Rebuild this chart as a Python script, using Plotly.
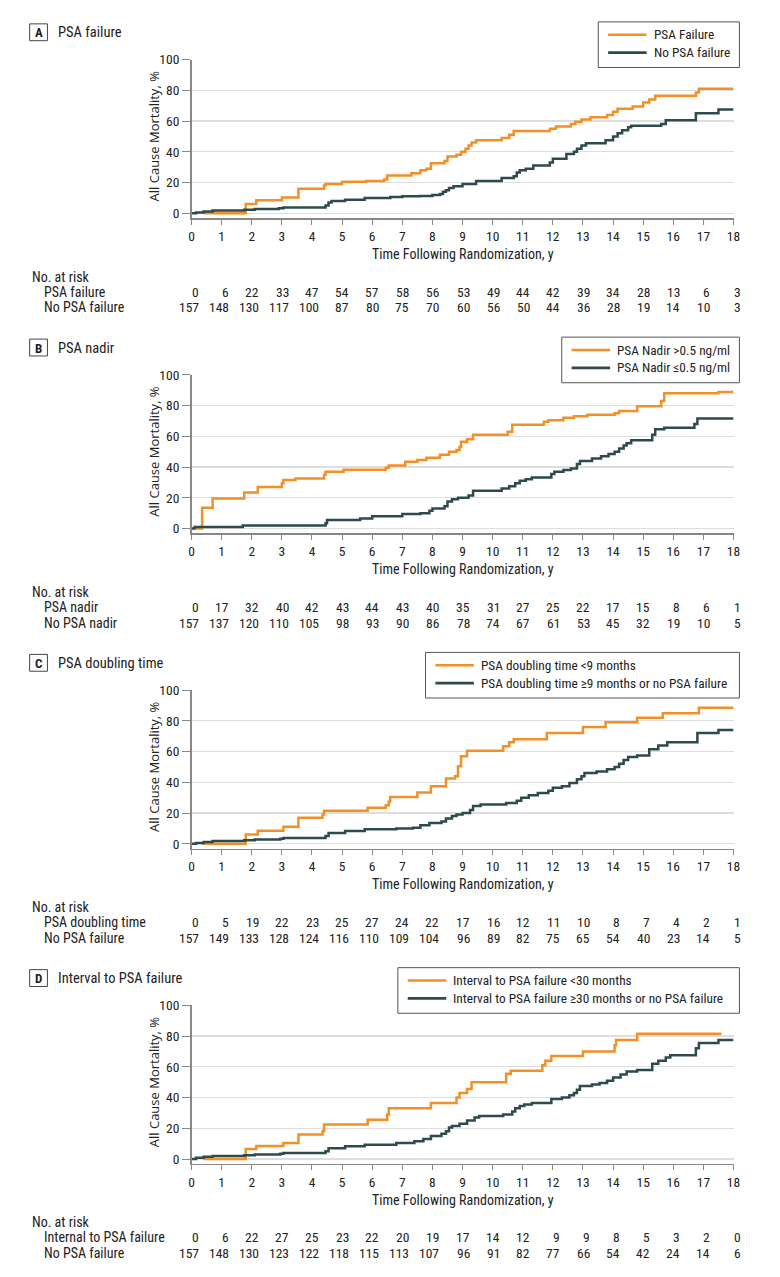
import plotly.graph_objects as go

W, H = 780, 1277
COND = "Roboto Condensed, Liberation Sans Narrow, Roboto, Liberation Sans, sans-serif"
ORANGE = "#F29027"
TEAL = "#2E4A4C"

years = list(range(0, 19))

# ---------------- Panel data ----------------
panel_letters = ["A", "B", "C", "D"]
panel_titles = ["PSA failure", "PSA nadir", "PSA doubling time", "Interval to PSA failure"]
legend_orange = ["PSA Failure", "PSA Nadir >0.5 ng/ml", "PSA doubling time <9 months",
                 "Interval to PSA failure <30 months"]
legend_teal = ["No PSA failure", "PSA Nadir \u22640.5 ng/ml",
               "PSA doubling time \u22659 months or no PSA failure",
               "Interval to PSA failure \u226530 months or no PSA failure"]
risk_label1 = ["PSA failure", "PSA nadir", "PSA doubling time", "Internal to PSA failure"]
risk_label2 = ["No PSA failure", "No PSA nadir", "No PSA failure", "No PSA failure"]

# Panel A
a_or_t = [0.4, 1.8, 2.15, 3.0, 3.55, 4.4, 4.45, 5.0, 5.8, 6.4, 6.5, 7.3, 7.6, 7.8, 7.95, 8.4, 8.5, 8.8, 8.95,
          9.1, 9.2, 9.3, 9.45, 10.3, 10.55, 10.7, 11.9, 12.1, 12.6, 12.75, 12.95, 13.25, 13.8, 14.0, 14.15,
          14.65, 15.0, 15.2, 15.4, 16.75, 16.85, 18.0]
a_or_v = [0, 6, 8.5, 10.2, 16, 18, 19, 20.5, 21, 22, 24.5, 26, 28, 29, 32.5, 34, 37, 38, 40,
          42, 44, 46, 47.5, 49, 51, 53.5, 55, 56.5, 58, 59.5, 61, 62.5, 64, 66, 68,
          69.5, 72, 74, 76.5, 78.5, 81, 81]
a_te_t = [0, 0.15, 0.4, 0.7, 1.75, 2.1, 2.9, 3.05, 4.45, 4.55, 4.65, 5.1, 5.75, 6.6, 7.0, 7.6, 8.0, 8.25,
          8.35, 8.45, 8.55, 8.7, 9.0, 9.45, 10.3, 10.7, 10.8, 10.9, 11.1, 11.35, 11.9, 12.0, 12.45, 12.7,
          12.8, 12.95, 13.1, 13.75, 14.0, 14.15, 14.3, 14.5, 14.6, 15.6, 15.75, 16.75, 17.5, 18.0]
a_te_v = [0, 0.5, 1.2, 1.8, 2.3, 2.8, 3.3, 3.8, 5, 7, 8, 8.8, 10, 10.5, 11, 11.2, 11.8, 12.5,
          14, 15, 16.5, 17.5, 19, 21, 23, 24, 26.5, 28, 29, 31, 33, 35.5, 38.5, 40,
          42, 44, 45.5, 47.5, 50, 52, 54, 56, 57, 58, 60.5, 65, 67.5, 67.5]
a_risk1 = [0, 6, 22, 33, 47, 54, 57, 58, 56, 53, 49, 44, 42, 39, 34, 28, 13, 6, 3]
a_risk2 = [157, 148, 130, 117, 100, 87, 80, 75, 70, 60, 56, 50, 44, 36, 28, 19, 14, 10, 3]

# Panel B
b_or_t = [0.15, 0.35, 0.7, 1.75, 2.2, 3.0, 3.05, 3.45, 4.4, 4.45, 5.05, 6.45, 6.55, 7.1, 7.5, 7.8, 8.25,
          8.55, 8.8, 8.9, 8.95, 9.15, 9.35, 10.5, 10.65, 11.7, 11.85, 12.35, 12.7, 13.15, 14.05, 14.2,
          14.8, 15.6, 15.7, 17.5, 18.0]
b_or_v = [0, 13.5, 19.5, 23.5, 27, 29.5, 31.5, 32.5, 35, 37, 38.3, 39.5, 41, 43.5, 44.5, 46, 48,
          50, 51, 53, 56.5, 58, 61, 63, 67.5, 69.5, 70.5, 72, 73, 74, 75, 76.5,
          79.5, 83, 88, 88.8, 88.8]
b_te_t = [0, 0.1, 1.7, 4.45, 4.5, 5.6, 6.0, 7.0, 7.6, 7.9, 8.0, 8.4, 8.5, 8.65, 8.85, 9.2, 9.35, 10.3,
          10.55, 10.75, 10.9, 11.1, 11.3, 11.95, 12.05, 12.35, 12.6, 12.8, 12.9, 13.3, 13.6, 13.85, 14.05,
          14.2, 14.35, 14.45, 14.6, 15.3, 15.4, 15.7, 16.7, 16.8, 18.0]
b_te_v = [0, 1, 2, 3.5, 5.5, 6.5, 8, 9.5, 10, 11.5, 13, 14.5, 17.5, 19, 20, 21.5, 24.5, 26,
          27.5, 29.5, 31, 32, 33.2, 35.5, 37, 38, 39, 42, 44, 45.5, 47, 48.5, 50,
          52, 54, 55.5, 57.5, 61, 64.5, 65.5, 68, 71.5, 71.5]
b_risk1 = [0, 17, 32, 40, 42, 43, 44, 43, 40, 35, 31, 27, 25, 22, 17, 15, 8, 6, 1]
b_risk2 = [157, 137, 120, 110, 105, 98, 93, 90, 86, 78, 74, 67, 61, 53, 45, 32, 19, 10, 5]

# Panel C
c_or_t = [0.35, 1.8, 2.2, 3.05, 3.55, 4.35, 4.4, 5.85, 6.45, 6.55, 6.6, 7.5, 7.95, 8.45, 8.75, 8.85,
          8.95, 9.15, 10.35, 10.55, 10.7, 11.8, 13.0, 13.75, 14.8, 15.65, 16.85, 18.0]
c_or_v = [0, 6, 8.5, 11, 17, 19, 21.5, 23.5, 25, 27.5, 30.5, 33.3, 37.5, 42.5, 44, 50.5,
          57, 60.5, 63.5, 66, 68, 72, 76, 79, 82, 85, 88.5, 88.5]
c_te_t = [0, 0.15, 0.4, 0.7, 1.75, 2.1, 2.95, 3.05, 4.45, 4.55, 5.1, 5.75, 6.8, 7.35, 7.6, 7.9, 8.3,
          8.45, 8.65, 8.8, 9.0, 9.25, 9.35, 9.6, 10.45, 10.8, 10.95, 11.2, 11.5, 11.85, 12.0, 12.3,
          12.55, 12.8, 12.95, 13.05, 13.45, 13.8, 14.05, 14.2, 14.35, 14.5, 14.8, 15.2, 15.5, 15.8,
          16.8, 17.5, 18.0]
c_te_v = [0, 0.5, 1.2, 1.8, 2.3, 2.8, 3.3, 3.8, 5, 7, 8.3, 9.5, 10, 10.5, 12, 13.5, 14.5,
          16.5, 18, 19, 20, 22, 24.5, 25.5, 26.5, 28, 30, 31.5, 33, 34.5, 36.5, 37.5,
          39.5, 42, 44, 46, 47, 48.5, 50, 52, 54.5, 56.5, 57.5, 61.5, 64, 66,
          72, 74, 74]
c_risk1 = [0, 5, 19, 22, 23, 25, 27, 24, 22, 17, 16, 12, 11, 10, 8, 7, 4, 2, 1]
c_risk2 = [157, 149, 133, 128, 124, 116, 110, 109, 104, 96, 89, 82, 75, 65, 54, 40, 23, 14, 5]

# Panel D
d_or_t = [0.4, 1.8, 2.15, 3.05, 3.55, 4.35, 4.4, 5.85, 6.5, 6.55, 7.95, 8.8, 8.9, 9.15, 9.3, 10.45,
          10.6, 11.65, 11.75, 11.95, 13.0, 14.05, 14.1, 14.8, 17.6]
d_or_v = [0, 6.5, 8.5, 10.5, 16, 18, 22.5, 25.5, 29, 33, 36.5, 40, 43, 45.5, 50, 55.5,
          57.5, 61, 64, 67, 70, 74, 77.5, 81.5, 81.5]
d_te_t = [0, 0.15, 0.4, 0.7, 1.75, 2.1, 2.95, 3.05, 4.45, 4.55, 5.1, 5.75, 6.8, 7.4, 7.7, 7.95, 8.3,
          8.45, 8.55, 8.65, 8.9, 9.15, 9.4, 9.55, 10.35, 10.65, 10.75, 10.9, 11.05, 11.3, 11.95, 12.3,
          12.55, 12.7, 12.8, 12.9, 13.3, 13.55, 13.8, 14.0, 14.25, 14.45, 14.8, 15.3, 15.5, 15.75,
          15.9, 16.75, 16.85, 17.5, 18.0]
d_te_v = [0, 0.8, 1.5, 2, 2.5, 3, 3.5, 4, 5, 7, 8.3, 9.3, 10.5, 11.5, 13, 15, 16.5,
          18, 20.5, 21.5, 23, 25, 27, 28, 29, 31, 33, 34.5, 35.5, 36.5, 39, 40,
          41.5, 43, 45, 47.5, 48.5, 49.5, 51, 53, 55, 57, 58, 62, 64, 66,
          67.5, 72, 75.5, 77.5, 77.5]
d_risk1 = [0, 6, 22, 27, 25, 23, 22, 20, 19, 17, 14, 12, 9, 9, 8, 5, 3, 2, 0]
d_risk2 = [157, 148, 130, 123, 122, 118, 115, 113, 107, 96, 91, 82, 77, 66, 54, 42, 24, 14, 6]

orange_t = [a_or_t, b_or_t, c_or_t, d_or_t]
orange_v = [a_or_v, b_or_v, c_or_v, d_or_v]
teal_t = [a_te_t, b_te_t, c_te_t, d_te_t]
teal_v = [a_te_v, b_te_v, c_te_v, d_te_v]
risk1 = [a_risk1, b_risk1, c_risk1, d_risk1]
risk2 = [a_risk2, b_risk2, c_risk2, d_risk2]

# ---------------- Layout helpers ----------------
def px(x):
    return x / W

def py(y):
    return 1 - y / H

panel_L = [25, 343, 661, 979]
legend_left = [603, 566, 428, 400]
LEG_RIGHT = 746
X0, X1 = 191, 740
TXT = "#222"

fig = go.Figure()
layout = dict(
    width=W, height=H, margin=dict(l=0, r=0, t=0, b=0),
    paper_bgcolor="white", plot_bgcolor="white", showlegend=False,
    font=dict(family=COND, size=13, color=TXT),
)
annotations = []
shapes = []

for i in range(4):
    n = i + 1
    L = panel_L[i]
    xa = "x" if n == 1 else f"x{n}"
    ya = "y" if n == 1 else f"y{n}"

    fig.add_trace(go.Scatter(x=orange_t[i], y=orange_v[i], mode="lines", line_shape="hv",
                             line=dict(color=ORANGE, width=2.5), name=legend_orange[i],
                             xaxis=xa, yaxis=ya, hoverinfo="skip"))
    fig.add_trace(go.Scatter(x=teal_t[i], y=teal_v[i], mode="lines", line_shape="hv",
                             line=dict(color=TEAL, width=2.5), name=legend_teal[i],
                             xaxis=xa, yaxis=ya, hoverinfo="skip"))

    top, bot = L + 27, L + 187
    layout["xaxis" if n == 1 else f"xaxis{n}"] = dict(
        domain=[px(X0), px(X1)], anchor=ya, range=[0, 18], tickvals=years,
        ticks="outside", ticklen=5, tickcolor="#888", showline=True, linecolor="#888", linewidth=1.5,
        showgrid=False, zeroline=False, fixedrange=True,
        tickfont=dict(family=COND, size=13.5, color=TXT))
    layout["yaxis" if n == 1 else f"yaxis{n}"] = dict(
        domain=[py(bot), py(top)], anchor=xa, range=[-3.2, 100], tickvals=[0, 20, 40, 60, 80, 100],
        ticks="outside", ticklen=8, tickcolor="#888", showline=True, linecolor="#888", linewidth=1.5,
        showgrid=True, gridcolor="#dedede", gridwidth=1.2, zeroline=False, fixedrange=True,
        tickfont=dict(family=COND, size=13.5, color=TXT))

    # Legend box (drawn manually)
    bl, bt = legend_left[i], L - 11
    shapes.append(dict(type="rect", xref="paper", yref="paper", x0=px(bl), x1=px(LEG_RIGHT),
                       y0=py(bt + 46), y1=py(bt), line=dict(color="#555", width=1),
                       fillcolor="white", layer="above"))
    for k, (col, lab) in enumerate([(ORANGE, legend_orange[i]), (TEAL, legend_teal[i])]):
        ly = bt + 13 + 18 * k
        shapes.append(dict(type="line", xref="paper", yref="paper", x0=px(bl + 10), x1=px(bl + 49),
                           y0=py(ly), y1=py(ly), line=dict(color=col, width=2.6), layer="above"))
        annotations.append(dict(x=px(bl + 54), y=py(ly), xref="paper", yref="paper", text=lab,
                                showarrow=False, xanchor="left", yanchor="middle",
                                font=dict(family=COND, size=13.3, color=TXT)))

    # Panel label box and title
    shapes.append(dict(type="rect", xref="paper", yref="paper", x0=px(27), x1=px(45),
                       y0=py(L + 8), y1=py(L - 9), line=dict(color="#444", width=1)))
    annotations.append(dict(x=px(36), y=py(L), xref="paper", yref="paper",
                            text=f"<b>{panel_letters[i]}</b>",
                            showarrow=False, xanchor="center", yanchor="middle",
                            font=dict(family=COND, size=13, color=TXT)))
    annotations.append(dict(x=px(54), y=py(L), xref="paper", yref="paper", text=panel_titles[i],
                            showarrow=False, xanchor="left", yanchor="middle",
                            font=dict(family=COND, size=14.5, color=TXT)))
    # Y axis title
    annotations.append(dict(x=px(153), y=py((top + L + 182) / 2), xref="paper", yref="paper",
                            text="All Cause Mortality, %", textangle=-90, showarrow=False,
                            xanchor="center", yanchor="middle",
                            font=dict(family="Open Sans, DejaVu Sans, sans-serif", size=13, color=TXT)))
    # X axis title
    annotations.append(dict(x=px((X0 + X1) / 2), y=py(L + 223), xref="paper", yref="paper",
                            text="Time Following Randomization, y", showarrow=False,
                            xanchor="center", yanchor="middle",
                            font=dict(family=COND, size=14, color=TXT)))
    # Risk table
    annotations.append(dict(x=px(27), y=py(L + 246), xref="paper", yref="paper", text="No. at risk",
                            showarrow=False, xanchor="left", yanchor="middle",
                            font=dict(family=COND, size=14, color=TXT)))
    for row, (lab, vals) in enumerate([(risk_label1[i], risk1[i]), (risk_label2[i], risk2[i])]):
        yy = py(L + 261 + 16 * row)
        annotations.append(dict(x=px(40), y=yy, xref="paper", yref="paper", text=lab,
                                showarrow=False, xanchor="left", yanchor="middle",
                                font=dict(family=COND, size=14, color=TXT)))
        for t, v in zip(years, vals):
            annotations.append(dict(x=t, y=yy, xref=xa, yref="paper", text=str(v),
                                    showarrow=False, xanchor="right", yanchor="middle", xshift=9,
                                    font=dict(family=COND, size=13.5, color=TXT)))

layout["annotations"] = annotations
layout["shapes"] = shapes
fig.update_layout(**layout)
fig.write_html("out.html", config={"displayModeBar": False, "staticPlot": True},
               post_script="document.body.style.margin='0';document.body.style.overflow='hidden';")
